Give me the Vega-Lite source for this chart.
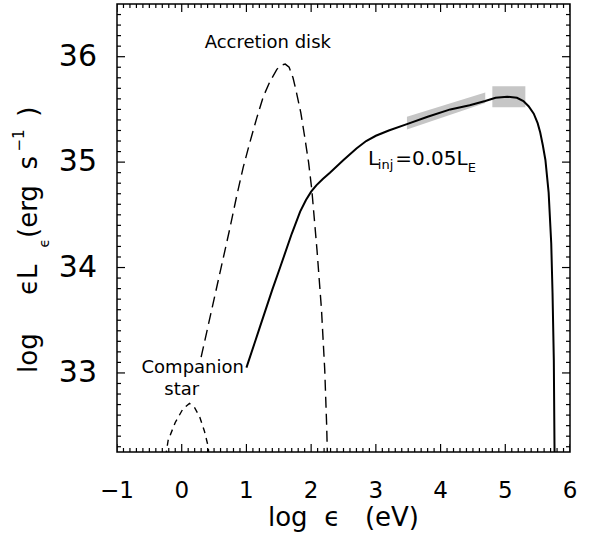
{
  "$schema": "https://vega.github.io/schema/vega-lite/v6.json",
  "width": 453,
  "height": 448,
  "autosize": {"type": "none"},
  "padding": {"left": 117, "top": 4, "right": 29, "bottom": 100},
  "background": "white",
  "config": {
    "view": {"stroke": "black", "strokeWidth": 1.5},
    "axis": {"domain": false, "grid": false, "ticks": false, "labelColor": "black", "titleColor": "black", "labelFont": "DejaVu Sans", "titleFont": "DejaVu Sans", "titleFontWeight": "normal"},
    "text": {"font": "DejaVu Sans", "color": "black"}
  },
  "datasets": {
    "xmajor": [{"v": -1}, {"v": 0}, {"v": 1}, {"v": 2}, {"v": 3}, {"v": 4}, {"v": 5}, {"v": 6}],
    "ymajor": [{"v": 33}, {"v": 34}, {"v": 35}, {"v": 36}],
    "xminor": [
      {"v": -0.9}, {"v": -0.8}, {"v": -0.7}, {"v": -0.6}, {"v": -0.5}, {"v": -0.4}, {"v": -0.3}, {"v": -0.2}, {"v": -0.1},
      {"v": 0.1}, {"v": 0.2}, {"v": 0.3}, {"v": 0.4}, {"v": 0.5}, {"v": 0.6}, {"v": 0.7}, {"v": 0.8}, {"v": 0.9},
      {"v": 1.1}, {"v": 1.2}, {"v": 1.3}, {"v": 1.4}, {"v": 1.5}, {"v": 1.6}, {"v": 1.7}, {"v": 1.8}, {"v": 1.9},
      {"v": 2.1}, {"v": 2.2}, {"v": 2.3}, {"v": 2.4}, {"v": 2.5}, {"v": 2.6}, {"v": 2.7}, {"v": 2.8}, {"v": 2.9},
      {"v": 3.1}, {"v": 3.2}, {"v": 3.3}, {"v": 3.4}, {"v": 3.5}, {"v": 3.6}, {"v": 3.7}, {"v": 3.8}, {"v": 3.9},
      {"v": 4.1}, {"v": 4.2}, {"v": 4.3}, {"v": 4.4}, {"v": 4.5}, {"v": 4.6}, {"v": 4.7}, {"v": 4.8}, {"v": 4.9},
      {"v": 5.1}, {"v": 5.2}, {"v": 5.3}, {"v": 5.4}, {"v": 5.5}, {"v": 5.6}, {"v": 5.7}, {"v": 5.8}, {"v": 5.9}
    ],
    "yminor": [
      {"v": 32.3}, {"v": 32.4}, {"v": 32.5}, {"v": 32.6}, {"v": 32.7}, {"v": 32.8}, {"v": 32.9},
      {"v": 33.1}, {"v": 33.2}, {"v": 33.3}, {"v": 33.4}, {"v": 33.5}, {"v": 33.6}, {"v": 33.7}, {"v": 33.8}, {"v": 33.9},
      {"v": 34.1}, {"v": 34.2}, {"v": 34.3}, {"v": 34.4}, {"v": 34.5}, {"v": 34.6}, {"v": 34.7}, {"v": 34.8}, {"v": 34.9},
      {"v": 35.1}, {"v": 35.2}, {"v": 35.3}, {"v": 35.4}, {"v": 35.5}, {"v": 35.6}, {"v": 35.7}, {"v": 35.8}, {"v": 35.9},
      {"v": 36.1}, {"v": 36.2}, {"v": 36.3}, {"v": 36.4}
    ],
    "xlabels": [
      {"x": -1, "y": 31.814, "text": "−1"}, {"x": 0, "y": 31.814, "text": "0"}, {"x": 1, "y": 31.814, "text": "1"},
      {"x": 2, "y": 31.814, "text": "2"}, {"x": 3, "y": 31.814, "text": "3"}, {"x": 4, "y": 31.814, "text": "4"},
      {"x": 5, "y": 31.814, "text": "5"}, {"x": 6, "y": 31.814, "text": "6"}
    ],
    "ylabels": [
      {"x": -1.309, "y": 33, "text": "33"}, {"x": -1.309, "y": 34, "text": "34"},
      {"x": -1.309, "y": 35, "text": "35"}, {"x": -1.309, "y": 36, "text": "36"}
    ],
    "band": [
      {"x": 3.48, "y": 35.31, "y2": 35.43},
      {"x": 4.69, "y": 35.56, "y2": 35.66}
    ],
    "box": [
      {"x": 4.80, "x2": 5.31, "y": 35.52, "y2": 35.72}
    ],
    "model": [
      {"x": 1.0, "y": 33.05}, {"x": 1.2, "y": 33.42}, {"x": 1.4, "y": 33.79}, {"x": 1.52, "y": 34.0},
      {"x": 1.7, "y": 34.32}, {"x": 1.83, "y": 34.53}, {"x": 1.92, "y": 34.64}, {"x": 2.0, "y": 34.72},
      {"x": 2.08, "y": 34.78}, {"x": 2.18, "y": 34.84}, {"x": 2.29, "y": 34.9}, {"x": 2.5, "y": 35.02}, {"x": 2.7, "y": 35.13},
      {"x": 2.85, "y": 35.2}, {"x": 3.0, "y": 35.25}, {"x": 3.2, "y": 35.3}, {"x": 3.48, "y": 35.36},
      {"x": 3.8, "y": 35.43}, {"x": 4.15, "y": 35.5}, {"x": 4.45, "y": 35.54}, {"x": 4.69, "y": 35.58},
      {"x": 4.85, "y": 35.61}, {"x": 5.03, "y": 35.62}, {"x": 5.18, "y": 35.61}, {"x": 5.28, "y": 35.58},
      {"x": 5.36, "y": 35.53}, {"x": 5.44, "y": 35.46}, {"x": 5.5, "y": 35.37}, {"x": 5.54, "y": 35.28},
      {"x": 5.58, "y": 35.16}, {"x": 5.62, "y": 35.02}, {"x": 5.67, "y": 34.71}, {"x": 5.71, "y": 34.23},
      {"x": 5.73, "y": 33.76}, {"x": 5.75, "y": 33.12}, {"x": 5.76, "y": 32.33}, {"x": 5.765, "y": 32.0}
    ],
    "disk": [
      {"x": 0.3, "y": 33.15}, {"x": 0.5, "y": 33.7}, {"x": 0.74, "y": 34.36}, {"x": 0.85, "y": 34.68},
      {"x": 0.95, "y": 34.95}, {"x": 1.05, "y": 35.18}, {"x": 1.16, "y": 35.42}, {"x": 1.26, "y": 35.62},
      {"x": 1.36, "y": 35.76}, {"x": 1.47, "y": 35.88}, {"x": 1.54, "y": 35.92}, {"x": 1.6, "y": 35.93},
      {"x": 1.66, "y": 35.9}, {"x": 1.72, "y": 35.8}, {"x": 1.77, "y": 35.67}, {"x": 1.84, "y": 35.47},
      {"x": 1.9, "y": 35.24}, {"x": 1.96, "y": 35.0}, {"x": 2.01, "y": 34.74}, {"x": 2.09, "y": 34.17},
      {"x": 2.16, "y": 33.6}, {"x": 2.21, "y": 33.03}, {"x": 2.24, "y": 32.5}, {"x": 2.26, "y": 32.0}
    ],
    "star": [
      {"x": -0.3, "y": 32.0}, {"x": -0.21, "y": 32.36}, {"x": -0.1, "y": 32.53}, {"x": 0.02, "y": 32.66},
      {"x": 0.12, "y": 32.71}, {"x": 0.2, "y": 32.67}, {"x": 0.28, "y": 32.58}, {"x": 0.35, "y": 32.45},
      {"x": 0.41, "y": 32.3}, {"x": 0.44, "y": 32.0}
    ],
    "notes": [
      {"x": 1.33, "y": 36.08, "text": "Accretion disk"},
      {"x": 0.17, "y": 33.0, "text": "Companion"},
      {"x": 0.0, "y": 32.79, "text": "star"}
    ],
    "lmain": [
      {"x": 2.88, "y": 34.97, "text": "L"},
      {"x": 3.30, "y": 34.97, "text": "=0.05L"}
    ],
    "lsub": [
      {"x": 3.03, "y": 34.93, "text": "inj"},
      {"x": 4.42, "y": 34.91, "text": "E"}
    ],
    "xtitle": [
      {"x": 2.5, "y": 31.55, "text": "log\u00a0\u00a0ϵ\u00a0\u00a0\u00a0(eV)"}
    ],
    "ytitle": [
      {"x": -2.23, "y": 33.0, "text": "log"},
      {"x": -2.23, "y": 33.74, "text": "ϵL"},
      {"x": -2.23, "y": 34.28, "text": "(erg"},
      {"x": -2.23, "y": 34.93, "text": "s"},
      {"x": -2.23, "y": 35.43, "text": ")"}
    ],
    "ysub": [
      {"x": -2.045, "y": 34.19, "text": "ϵ"}
    ],
    "ysup": [
      {"x": -2.43, "y": 35.10, "text": "−1"}
    ]
  },
  "layer": [
    {
      "data": {"name": "band"},
      "mark": {"type": "area", "color": "#c6c6c6", "clip": true},
      "encoding": {
        "x": {"field": "x", "type": "quantitative", "scale": {"domain": [-1, 6], "nice": false, "zero": false}, "axis": null},
        "y": {"field": "y", "type": "quantitative", "scale": {"domain": [32.25, 36.5], "nice": false, "zero": false}, "axis": null},
        "y2": {"field": "y2"}
      }
    },
    {
      "data": {"name": "box"},
      "mark": {"type": "rect", "color": "#c6c6c6"},
      "encoding": {
        "x": {"field": "x", "type": "quantitative", "axis": null},
        "x2": {"field": "x2"},
        "y": {"field": "y", "type": "quantitative", "axis": null},
        "y2": {"field": "y2"}
      }
    },
    {
      "data": {"name": "xmajor"},
      "mark": {"type": "tick", "orient": "vertical", "size": 16, "thickness": 1.2, "color": "black", "opacity": 1, "clip": true},
      "encoding": {
        "x": {"field": "v", "type": "quantitative", "axis": null},
        "y": {"datum": 32.25, "type": "quantitative", "axis": null}
      }
    },
    {
      "data": {"name": "xmajor"},
      "mark": {"type": "tick", "orient": "vertical", "size": 16, "thickness": 1.2, "color": "black", "opacity": 1, "clip": true},
      "encoding": {
        "x": {"field": "v", "type": "quantitative", "axis": null},
        "y": {"datum": 36.5, "type": "quantitative", "axis": null}
      }
    },
    {
      "data": {"name": "xminor"},
      "mark": {"type": "tick", "orient": "vertical", "size": 8, "thickness": 1.2, "color": "black", "opacity": 1, "clip": true},
      "encoding": {
        "x": {"field": "v", "type": "quantitative", "axis": null},
        "y": {"datum": 32.25, "type": "quantitative", "axis": null}
      }
    },
    {
      "data": {"name": "xminor"},
      "mark": {"type": "tick", "orient": "vertical", "size": 8, "thickness": 1.2, "color": "black", "opacity": 1, "clip": true},
      "encoding": {
        "x": {"field": "v", "type": "quantitative", "axis": null},
        "y": {"datum": 36.5, "type": "quantitative", "axis": null}
      }
    },
    {
      "data": {"name": "ymajor"},
      "mark": {"type": "tick", "orient": "horizontal", "size": 16, "thickness": 1.2, "color": "black", "opacity": 1, "clip": true},
      "encoding": {
        "y": {"field": "v", "type": "quantitative", "axis": null},
        "x": {"datum": -1, "type": "quantitative", "axis": null}
      }
    },
    {
      "data": {"name": "ymajor"},
      "mark": {"type": "tick", "orient": "horizontal", "size": 16, "thickness": 1.2, "color": "black", "opacity": 1, "clip": true},
      "encoding": {
        "y": {"field": "v", "type": "quantitative", "axis": null},
        "x": {"datum": 6, "type": "quantitative", "axis": null}
      }
    },
    {
      "data": {"name": "yminor"},
      "mark": {"type": "tick", "orient": "horizontal", "size": 8, "thickness": 1.2, "color": "black", "opacity": 1, "clip": true},
      "encoding": {
        "y": {"field": "v", "type": "quantitative", "axis": null},
        "x": {"datum": -1, "type": "quantitative", "axis": null}
      }
    },
    {
      "data": {"name": "yminor"},
      "mark": {"type": "tick", "orient": "horizontal", "size": 8, "thickness": 1.2, "color": "black", "opacity": 1, "clip": true},
      "encoding": {
        "y": {"field": "v", "type": "quantitative", "axis": null},
        "x": {"datum": 6, "type": "quantitative", "axis": null}
      }
    },
    {
      "data": {"name": "model"},
      "mark": {"type": "line", "color": "black", "strokeWidth": 2, "clip": true},
      "encoding": {
        "x": {"field": "x", "type": "quantitative", "axis": null},
        "y": {"field": "y", "type": "quantitative", "axis": null}
      }
    },
    {
      "data": {"name": "disk"},
      "mark": {"type": "line", "color": "black", "strokeWidth": 1.4, "strokeDash": [11, 6], "clip": true},
      "encoding": {
        "x": {"field": "x", "type": "quantitative", "axis": null},
        "y": {"field": "y", "type": "quantitative", "axis": null}
      }
    },
    {
      "data": {"name": "star"},
      "mark": {"type": "line", "color": "black", "strokeWidth": 1.4, "strokeDash": [6, 5], "clip": true},
      "encoding": {
        "x": {"field": "x", "type": "quantitative", "axis": null},
        "y": {"field": "y", "type": "quantitative", "axis": null}
      }
    },
    {
      "data": {"name": "notes"},
      "mark": {"type": "text", "fontSize": 18, "align": "center", "baseline": "alphabetic"},
      "encoding": {
        "x": {"field": "x", "type": "quantitative", "axis": null},
        "y": {"field": "y", "type": "quantitative", "axis": null},
        "text": {"field": "text"}
      }
    },
    {
      "data": {"name": "lmain"},
      "mark": {"type": "text", "fontSize": 20, "align": "left", "baseline": "alphabetic"},
      "encoding": {
        "x": {"field": "x", "type": "quantitative", "axis": null},
        "y": {"field": "y", "type": "quantitative", "axis": null},
        "text": {"field": "text"}
      }
    },
    {
      "data": {"name": "lsub"},
      "mark": {"type": "text", "fontSize": 13, "align": "left", "baseline": "alphabetic"},
      "encoding": {
        "x": {"field": "x", "type": "quantitative", "axis": null},
        "y": {"field": "y", "type": "quantitative", "axis": null},
        "text": {"field": "text"}
      }
    },
    {
      "data": {"name": "xlabels"},
      "mark": {"type": "text", "fontSize": 23, "align": "center", "baseline": "alphabetic"},
      "encoding": {
        "x": {"field": "x", "type": "quantitative", "axis": null},
        "y": {"field": "y", "type": "quantitative", "axis": null},
        "text": {"field": "text"}
      }
    },
    {
      "data": {"name": "ylabels"},
      "mark": {"type": "text", "fontSize": 30, "align": "right", "baseline": "middle"},
      "encoding": {
        "x": {"field": "x", "type": "quantitative", "axis": null},
        "y": {"field": "y", "type": "quantitative", "axis": null},
        "text": {"field": "text"}
      }
    },
    {
      "data": {"name": "xtitle"},
      "mark": {"type": "text", "fontSize": 26, "align": "center", "baseline": "alphabetic"},
      "encoding": {
        "x": {"field": "x", "type": "quantitative", "axis": null},
        "y": {"field": "y", "type": "quantitative", "axis": null},
        "text": {"field": "text"}
      }
    },
    {
      "data": {"name": "ytitle"},
      "mark": {"type": "text", "fontSize": 26, "angle": 270, "align": "left", "baseline": "alphabetic"},
      "encoding": {
        "x": {"field": "x", "type": "quantitative", "axis": null},
        "y": {"field": "y", "type": "quantitative", "axis": null},
        "text": {"field": "text"}
      }
    },
    {
      "data": {"name": "ysub"},
      "mark": {"type": "text", "fontSize": 14, "angle": 270, "align": "left", "baseline": "alphabetic"},
      "encoding": {
        "x": {"field": "x", "type": "quantitative", "axis": null},
        "y": {"field": "y", "type": "quantitative", "axis": null},
        "text": {"field": "text"}
      }
    },
    {
      "data": {"name": "ysup"},
      "mark": {"type": "text", "fontSize": 15, "angle": 270, "align": "left", "baseline": "alphabetic"},
      "encoding": {
        "x": {"field": "x", "type": "quantitative", "axis": null},
        "y": {"field": "y", "type": "quantitative", "axis": null},
        "text": {"field": "text"}
      }
    }
  ]
}
